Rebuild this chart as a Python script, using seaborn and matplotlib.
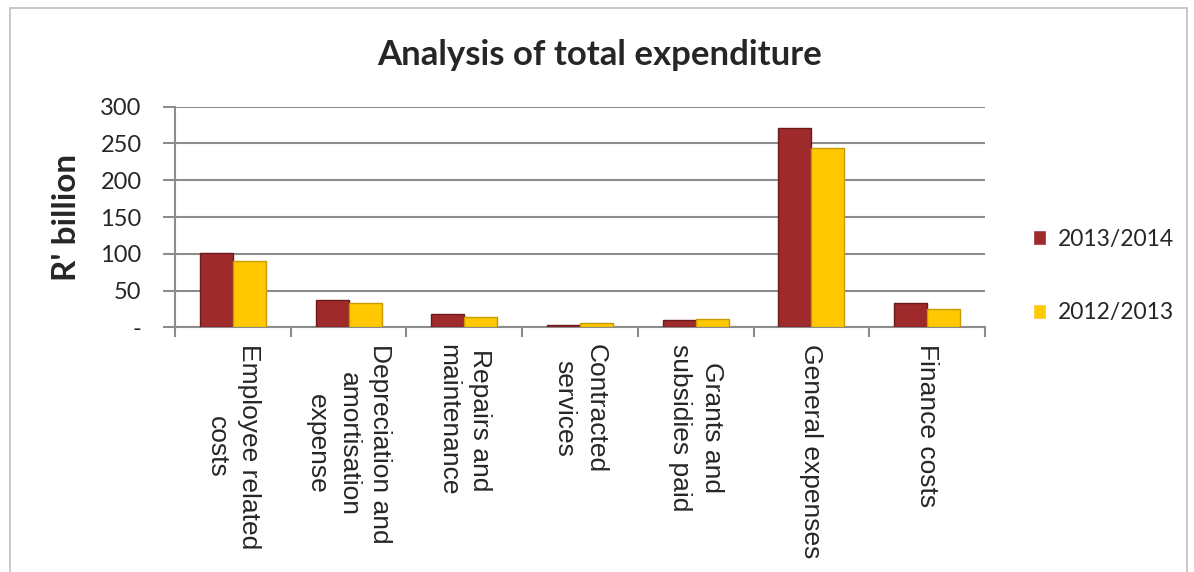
"""
Analysis of total expenditure - grouped bar chart (R' billion).
"""
import numpy as np
import pandas as pd
import matplotlib
matplotlib.use("Agg")
import matplotlib.pyplot as plt
from matplotlib.patches import Rectangle
from matplotlib.ticker import FuncFormatter
import seaborn as sns

# --- data ---
categories = [
    "Employee related\ncosts",
    "Depreciation and\namortisation\nexpense",
    "Repairs and\nmaintenance",
    "Contracted\nservices",
    "Grants and\nsubsidies paid",
    "General expenses",
    "Finance costs",
]
years = ["2013/2014", "2012/2013"]
values_2014 = [101.5, 37.2, 18.1, 2.7, 10.4, 271.0, 32.6]
values_2013 = [90.2, 32.6, 14.5, 5.4, 10.9, 243.5, 25.4]
y_ticks = [0, 50, 100, 150, 200, 250, 300]

# long format for seaborn
df = pd.DataFrame({
    "category": categories * 2,
    "year": [years[0]] * len(categories) + [years[1]] * len(categories),
    "value": values_2014 + values_2013,
})

sns.set_theme(style="white")
plt.rcParams["font.family"] = ["Lato", "DejaVu Sans"]

GRID = "#8c8c8c"
palette = {years[0]: "#9e2a2b", years[1]: "#ffc800"}
edges = {years[0]: "#6b1a1a", years[1]: "#c99a00"}

fig = plt.figure(figsize=(11.94, 5.72), dpi=100)
ax = fig.add_axes([175 / 1194, 244.7 / 572, 810 / 1194, 220.6 / 572])

sns.barplot(data=df, x="category", y="value", hue="year", hue_order=years,
            palette=palette, width=0.57, saturation=1, ax=ax, zorder=3)

# darker outline per series
for cont, yr in zip(ax.containers, years):
    for bar in cont:
        bar.set_edgecolor(edges[yr])
        bar.set_linewidth(1.0)

# axes styling
ax.set_xlim(-0.5, len(categories) - 0.5)
ax.set_ylim(0, 300)
ax.set_yticks(y_ticks)
ax.yaxis.set_major_formatter(FuncFormatter(lambda v, p: "-" if v == 0 else f"{v:.0f}"))
ax.grid(axis="y", color=GRID, linewidth=1.5, zorder=0)
for side in ["top", "right"]:
    ax.spines[side].set_visible(False)
for side in ["left", "bottom"]:
    ax.spines[side].set_color(GRID)
    ax.spines[side].set_linewidth(1.5)

ax.tick_params(axis="y", left=True, length=9, width=1.5, color=GRID, pad=15,
               labelsize=17)
ax.set_xticks(np.arange(-0.5, len(categories), 1), minor=True)
ax.tick_params(axis="x", which="minor", bottom=True, length=7, width=1.5, color=GRID)
ax.tick_params(axis="x", which="major", bottom=False, length=0, pad=12)
ax.set_xticklabels(categories, rotation=-90, va="top", ha="center",
                   multialignment="center", fontsize=19, linespacing=1.4,
                   family=["Liberation Sans", "DejaVu Sans"])

ax.set_xlabel("")
ax.set_ylabel("R' billion", fontsize=24, fontweight="bold", labelpad=14)

fig.text(600 / 1194, 1 - 55 / 572, "Analysis of total expenditure",
         ha="center", va="center", fontsize=25, fontweight="bold")

sns.move_legend(ax, loc="center left", bbox_to_anchor=(1012 / 1194, 296 / 572),
                bbox_transform=fig.transFigure, frameon=False, title=None,
                fontsize=16.5, labelspacing=2.3, handlelength=0.6,
                handleheight=0.6, handletextpad=0.5)

# thin frame around the whole chart
fig.patches.append(Rectangle((10 / 1194, -0.01), 1177 / 1194, 1.01 - 8 / 572,
                             transform=fig.transFigure, fill=False,
                             edgecolor="#bfbfbf", linewidth=1.2))

fig.savefig("out.png", dpi=100)
